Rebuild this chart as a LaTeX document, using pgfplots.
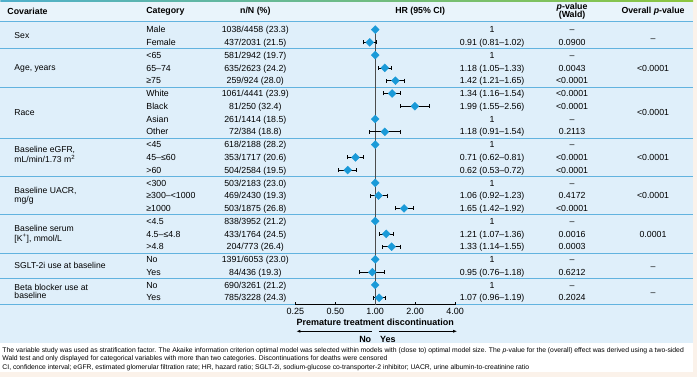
\documentclass[border=0pt]{standalone}
\usepackage{pgfplots}
\pgfplotsset{compat=1.18}
\usepackage{pgfplotstable}
\usepackage{fontspec}
\setmainfont{Liberation Sans}
\usetikzlibrary{arrows.meta}
\definecolor{bodybg}{HTML}{DFEFFA}
\definecolor{headbg}{HTML}{E9F4FB}
\definecolor{sepc}{HTML}{62B3DF}
\definecolor{diam}{HTML}{1A9AD8}
\definecolor{beige}{HTML}{FBF2EA}
\definecolor{topa}{HTML}{4FB0CC}
\definecolor{topb}{HTML}{8CC63F}
\newcommand\R[1]{-29.67-12.777*(#1)}
\pgfplotstableread{
row hr lo hi
1 0.91 0.81 1.02
3 1.18 1.05 1.33
4 1.42 1.21 1.65
5 1.34 1.16 1.54
6 1.99 1.55 2.56
8 1.18 0.91 1.54
10 0.71 0.62 0.81
11 0.62 0.53 0.72
13 1.06 0.92 1.23
14 1.65 1.42 1.92
16 1.21 1.07 1.36
17 1.33 1.14 1.55
19 0.95 0.76 1.18
21 1.07 0.96 1.19
}\est
\pgfplotstableread{
row hr
0 1
2 1
7 1
9 1
12 1
15 1
18 1
20 1
}\refs
\newcommand\rowtext[5]{%
  \node[rt,anchor=west] at (146,{\R{#1}}) {#2};
  \node[rt] at (255,{\R{#1}}) {#3};
  \node[rt] at (492,{\R{#1}}) {#4};
  \node[rt] at (572,{\R{#1}}) {#5};}
\begin{document}
\begin{tikzpicture}[x=1pt,y=1pt,
  every node/.style={inner sep=0pt, outer sep=0pt},
  font=\fontsize{8.8}{8.2}\selectfont,
  rt/.style={text height=6.4pt, text depth=0pt},
  cv/.style={anchor=west, align=left, font=\fontsize{8.6}{8.6}\selectfont},
  hd/.style={font=\bfseries\fontsize{8.8}{8.4}\selectfont, align=center},
  fn/.style={font=\fontsize{6.8}{7}\selectfont}]
% backgrounds
\fill[beige] (0,0) rectangle (697,-377);
\fill[white] (0,-343) rectangle (693,-372);
\fill[bodybg] (0,-21) rectangle (693,-343);
\fill[headbg] (0,-1.6) rectangle (693,-21);
\shade[left color=topa, right color=topb] (0,0) rectangle (693,-1.6);
% separators
\foreach \s in {-0.6,1.5,4.5,8.5,11.5,14.5,17.5,19.5,21.55}
  \draw[sepc, line width=1pt] (0,{\R{\s}}) -- (693,{\R{\s}});
% header
\node[hd, anchor=west] at (7,-11) {Covariate};
\node[hd, anchor=west] at (146,-11) {Category};
\node[hd] at (255,-11) {n/N (\%)};
\node[hd] at (420,-11) {HR (95\% CI)};
\node[hd] at (572,-11) {\textit{p}-value\\(Wald)};
\node[hd] at (653,-11) {Overall \textit{p}-value};
% forest plot
\begin{axis}[at={(295pt,-305pt)}, anchor=south west, scale only axis,
  width=160pt, height=283pt,
  xmode=log, log basis x=2, xmin=0.25, xmax=4,
  ymin=-21.55, ymax=0.6,
  axis x line*=bottom, axis y line=none,
  xtick={0.25,0.5,1,2,4}, xticklabels={0.25,0.50,1.00,2.00,4.00},
  tick align=inside, major tick length=3pt,
  tick style={black, line width=0.6pt},
  x axis line style={black, line width=0.8pt, -},
  xticklabel style={font=\fontsize{9}{10}\selectfont, anchor=north, yshift=-3.5pt},
  xlabel={\bfseries Premature treatment discontinuation},
  xlabel style={font=\fontsize{9}{10}\selectfont, at={(axis description cs:0.5,0)}, anchor=north, yshift=-14pt},
  clip=false]
\addplot[black!70, line width=0.9pt] coordinates {(1,0) (1,-21.55)};
\addplot[only marks, mark=square*, mark size=2.8pt,
  mark options={rotate=45, fill=diam, draw=diam},
  error bars/.cd, x dir=both, x explicit,
  error bar style={black, line width=0.6pt},
  error mark options={rotate=90, black, mark size=2pt, line width=0.6pt}]
  table[x=hr, y expr=-\thisrow{row},
        x error plus expr=\thisrow{hi}-\thisrow{hr},
        x error minus expr=\thisrow{hr}-\thisrow{lo}] {\est};
\addplot[only marks, mark=square*, mark size=2.8pt,
  mark options={rotate=45, fill=diam, draw=diam}]
  table[x=hr, y expr=-\thisrow{row}] {\refs};
\end{axis}
% arrows
\draw[black, line width=0.8pt, -{Latex[length=4pt,width=3pt]}] (372,-331.5) -- (296,-331.5);
\draw[black, line width=0.8pt, -{Latex[length=4pt,width=3pt]}] (379,-331.5) -- (457,-331.5);
\node[font=\bfseries\fontsize{9}{10}\selectfont, anchor=east, rt] at (371,-339.5) {No};
\node[font=\bfseries\fontsize{9}{10}\selectfont, anchor=west, rt] at (380,-339.5) {Yes};
% covariates
\node[cv] at (14,{\R{0.5}}) {Sex};
\node[cv] at (14,{\R{3}}) {Age, years};
\node[cv] at (14,{\R{6.5}}) {Race};
\node[cv] at (14,{\R{9.8}}) {Baseline eGFR,\\mL/min/1.73 m\textsuperscript{2}};
\node[cv] at (14,{\R{13}}) {Baseline UACR,\\mg/g};
\node[cv, font=\fontsize{8.6}{9.8}\selectfont] at (14,{\R{16}}) {Baseline serum\\{}[K\textsuperscript{+}], mmol/L};
\node[cv] at (14,{\R{18.5}}) {SGLT-2i use at baseline};
\node[cv] at (14,{\R{20.5}}) {Beta blocker use at\\baseline};
% rows
\rowtext{0}{Male}{1038/4458 (23.3)}{1}{–}
\rowtext{1}{Female}{437/2031 (21.5)}{0.91 (0.81–1.02)}{0.0900}
\rowtext{2}{<65}{581/2942 (19.7)}{1}{–}
\rowtext{3}{65–74}{635/2623 (24.2)}{1.18 (1.05–1.33)}{0.0043}
\rowtext{4}{≥75}{259/924 (28.0)}{1.42 (1.21–1.65)}{<0.0001}
\rowtext{5}{White}{1061/4441 (23.9)}{1.34 (1.16–1.54)}{<0.0001}
\rowtext{6}{Black}{81/250 (32.4)}{1.99 (1.55–2.56)}{<0.0001}
\rowtext{7}{Asian}{261/1414 (18.5)}{1}{–}
\rowtext{8}{Other}{72/384 (18.8)}{1.18 (0.91–1.54)}{0.2113}
\rowtext{9}{<45}{618/2188 (28.2)}{1}{–}
\rowtext{10}{45–≤60}{353/1717 (20.6)}{0.71 (0.62–0.81)}{<0.0001}
\rowtext{11}{>60}{504/2584 (19.5)}{0.62 (0.53–0.72)}{<0.0001}
\rowtext{12}{<300}{503/2183 (23.0)}{1}{–}
\rowtext{13}{≥300–<1000}{469/2430 (19.3)}{1.06 (0.92–1.23)}{0.4172}
\rowtext{14}{≥1000}{503/1875 (26.8)}{1.65 (1.42–1.92)}{<0.0001}
\rowtext{15}{<4.5}{838/3952 (21.2)}{1}{–}
\rowtext{16}{4.5–≤4.8}{433/1764 (24.5)}{1.21 (1.07–1.36)}{0.0016}
\rowtext{17}{>4.8}{204/773 (26.4)}{1.33 (1.14–1.55)}{0.0003}
\rowtext{18}{No}{1391/6053 (23.0)}{1}{–}
\rowtext{19}{Yes}{84/436 (19.3)}{0.95 (0.76–1.18)}{0.6212}
\rowtext{20}{No}{690/3261 (21.2)}{1}{–}
\rowtext{21}{Yes}{785/3228 (24.3)}{1.07 (0.96–1.19)}{0.2024}
% overall p
\node[rt] at (653,{\R{0.7}}) {–};
\node[rt] at (653,{\R{3}}) {<0.0001};
\node[rt] at (653,{\R{6.5}}) {<0.0001};
\node[rt] at (653,{\R{10}}) {<0.0001};
\node[rt] at (653,{\R{13}}) {<0.0001};
\node[rt] at (653,{\R{16}}) {0.0001};
\node[rt] at (653,{\R{18.5}}) {–};
\node[rt] at (653,{\R{20.6}}) {–};
% footnote
\node[fn, anchor=base west] at (2,-352.3) {The variable study was used as stratification factor. The Akaike information criterion optimal model was selected within models with (close to) optimal model size. The \textit{p}-value for the (overall) effect was derived using a two-sided};
\node[fn, anchor=base west] at (2,-360.3) {Wald test and only displayed for categorical variables with more than two categories. Discontinuations for deaths were censored};
\node[fn, anchor=base west] at (2,-369.3) {CI, confidence interval; eGFR, estimated glomerular filtration rate; HR, hazard ratio; SGLT-2i, sodium-glucose co-transporter-2 inhibitor; UACR, urine albumin-to-creatinine ratio};
\end{tikzpicture}
\end{document}
